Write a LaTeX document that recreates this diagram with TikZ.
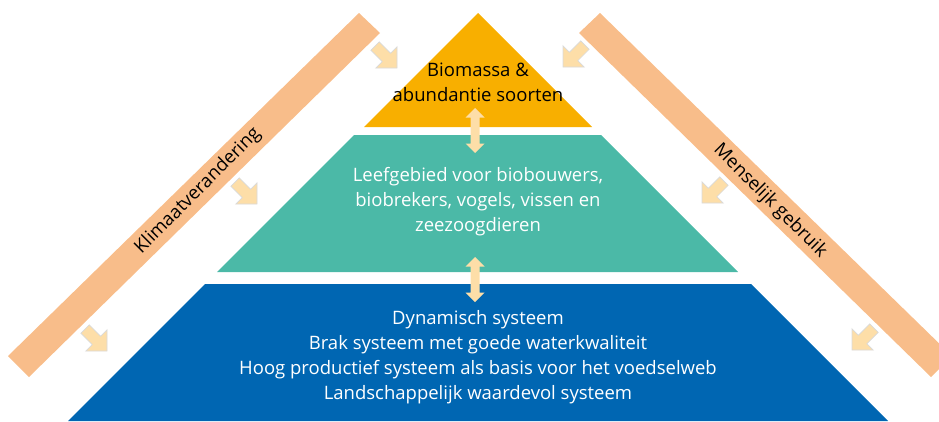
\documentclass[tikz,border=0pt]{standalone}
\usepackage{fontspec}
\setmainfont{Open Sans}
\definecolor{tierorange}{RGB}{248,175,0}
\definecolor{tierteal}{RGB}{75,185,167}
\definecolor{tierblue}{RGB}{0,102,178}
\definecolor{barc}{RGB}{248,189,138}
\definecolor{arrc}{RGB}{253,222,168}
\begin{document}
\begin{tikzpicture}[x=1pt,y=-1pt,
  bar/.style={fill=barc},
  lbl/.style={font=\fontsize{18.5}{25}\selectfont, align=center, inner sep=0pt},
  sarrow/.style={fill=arrc, draw=black!15, line width=0.7pt, line join=miter},
  darrow/.style={fill=arrc, draw=none},
  pics/sarr/.style={code={\path[sarrow] (0,0) -- (-15,15) -- (-15,6) -- (-31,6) -- (-31,-6) -- (-15,-6) -- (-15,-15) -- cycle;}},
  pics/darr/.style={code={\path[darrow] (0,-22.5) -- (9.5,-13) -- (4.5,-13) -- (4.5,13) -- (9.5,13) -- (0,22.5) -- (-9.5,13) -- (-4.5,13) -- (-4.5,-13) -- (-9.5,-13) -- cycle;}}]
\useasboundingbox (0,0) rectangle (939,421);
\clip (0,0) rectangle (939,421);
% side bars
\path[bar] (359,13) -- (380,33) -- (29,377) -- (8,356) -- cycle;
\path[bar] (600,13) -- (579,33) -- (931,377) -- (952,356) -- cycle;
% tiers
\fill[tierorange] (478,13) -- (592,127) -- (364,127) -- cycle;
\fill[tierteal] (354,135) -- (601,135) -- (738,272) -- (217,272) -- cycle;
\fill[tierblue] (205,284) -- (751,284) -- (888,421) -- (68,421) -- cycle;
% texts
\node[lbl, text=black] (top) at (478,82) {Biomassa \&\\abundantie soorten};
\node[lbl, text=white] (mid) at (478,202) {Leefgebied voor biobouwers,\\biobrekers, vogels, vissen en\\zeezoogdieren};
\node[lbl, text=white] (bot) at (478,357) {Dynamisch systeem\\Brak systeem met goede waterkwaliteit\\Hoog productief systeem als basis voor het voedselweb\\Landschappelijk waardevol systeem};
\node[lbl, rotate=45] (klim) at (198,191) {Klimaatverandering};
\node[lbl, rotate=-45] (mens) at (770,201) {Menselijk gebruik};
% small arrows
\pic (la1) [rotate=-45] at (397,68) {sarr};
\pic (la2) [rotate=-45] at (257,204) {sarr};
\pic (la3) [rotate=-45] at (107,351) {sarr};
\pic (ra1) [rotate=-135] at (563,67) {sarr};
\pic (ra2) [rotate=-135] at (702,203) {sarr};
\pic (ra3) [rotate=-135] at (852,350) {sarr};
% double arrows
\pic (d1) at (475,130.5) {darr};
\pic (d2) at (475,279.5) {darr};
\end{tikzpicture}
\end{document}
